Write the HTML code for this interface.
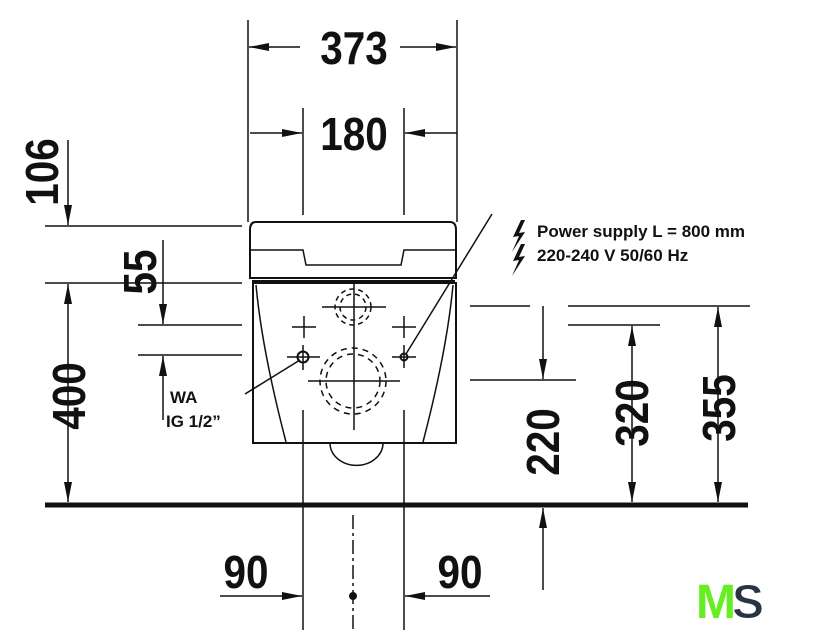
<!DOCTYPE html>
<html><head><meta charset="utf-8"><style>
html,body{margin:0;padding:0;background:#fff}
svg{display:block}
text{font-family:"Liberation Sans",sans-serif;font-weight:bold;fill:#111}
.d{font-size:46px}
.s{font-size:17px}
</style></head><body>
<svg width="827" height="640" viewBox="0 0 827 640" xmlns="http://www.w3.org/2000/svg">
<defs>
<marker id="a" viewBox="0 0 20 8" refX="20" refY="4" markerWidth="20" markerHeight="8" markerUnits="userSpaceOnUse" orient="auto"><path d="M0,0 L20,4 L0,8 z" fill="#111"/></marker>
</defs>
<g stroke="#111" stroke-width="1.5" fill="none">
<line x1="248" y1="20" x2="248" y2="222"/>
<line x1="457" y1="20" x2="457" y2="222"/>
<line x1="303" y1="108" x2="303" y2="215"/>
<line x1="404" y1="108" x2="404" y2="215"/>
<line x1="300" y1="47" x2="249" y2="47" marker-end="url(#a)"/>
<line x1="400" y1="47" x2="456" y2="47" marker-end="url(#a)"/>
<line x1="250" y1="133" x2="302" y2="133" marker-end="url(#a)"/>
<line x1="457" y1="133" x2="405" y2="133" marker-end="url(#a)"/>
<!-- seat -->
<path d="M256,222 L450,222 Q456,222 456,230 L456,278 L250,278 L250,230 Q250,222 256,222 Z" stroke-width="2"/>
<path d="M250,250 L303,250 L306,265 L401,265 L404,250 L456,250"/>
<line x1="252" y1="281" x2="455" y2="281" stroke-width="2"/>
<!-- bowl -->
<path d="M253,283 L456,283 L456,443 L253,443 Z" stroke-width="2"/>
<path d="M256,285 Q262,350 286,442"/>
<path d="M453,285 Q447,350 423,442"/>
<path d="M330,443 A26,22 0 0 0 383,443"/>
<line x1="354" y1="282" x2="354" y2="430"/>
<line x1="322" y1="307" x2="386" y2="307"/>
<line x1="308" y1="381" x2="400" y2="381"/>
<circle cx="353" cy="307" r="18" stroke-dasharray="5,4"/>
<circle cx="353" cy="307" r="13" stroke-dasharray="5,4"/>
<circle cx="353" cy="381" r="33" stroke-dasharray="6,5"/>
<circle cx="353" cy="381" r="27" stroke-dasharray="6,5"/>
<line x1="292" y1="327" x2="316" y2="327"/><line x1="304" y1="316" x2="304" y2="338"/>
<line x1="392" y1="327" x2="416" y2="327"/><line x1="404" y1="316" x2="404" y2="338"/>
<line x1="287" y1="357" x2="320" y2="357"/><line x1="303" y1="345" x2="303" y2="370"/>
<circle cx="303" cy="357" r="5.5" stroke-width="2"/>
<line x1="392" y1="357" x2="416" y2="357"/><line x1="404" y1="345" x2="404" y2="368"/>
<circle cx="404" cy="357" r="3.5" stroke-width="2"/>
<line x1="303" y1="410" x2="303" y2="630"/>
<line x1="404" y1="410" x2="404" y2="630"/>
<line x1="353" y1="515" x2="353" y2="630" stroke-dasharray="14,4,3,4"/>
<line x1="245" y1="394" x2="300" y2="360"/>
<line x1="492" y1="214" x2="406" y2="354"/>
<line x1="45" y1="226" x2="242" y2="226"/>
<line x1="45" y1="283" x2="242" y2="283"/>
<line x1="68" y1="140" x2="68" y2="225" marker-end="url(#a)"/>
<line x1="68" y1="390" x2="68" y2="284" marker-end="url(#a)"/>
<line x1="68" y1="390" x2="68" y2="502" marker-end="url(#a)"/>
<line x1="138" y1="325" x2="242" y2="325"/>
<line x1="138" y1="355" x2="242" y2="355"/>
<line x1="163" y1="240" x2="163" y2="324" marker-end="url(#a)"/>
<line x1="163" y1="420" x2="163" y2="356" marker-end="url(#a)"/>
<line x1="470" y1="306" x2="530" y2="306"/>
<line x1="568" y1="306" x2="750" y2="306"/>
<line x1="568" y1="325" x2="660" y2="325"/>
<line x1="470" y1="380" x2="576" y2="380"/>
<line x1="543" y1="306" x2="543" y2="379" marker-end="url(#a)"/>
<line x1="543" y1="590" x2="543" y2="508" marker-end="url(#a)"/>
<line x1="632" y1="400" x2="632" y2="326" marker-end="url(#a)"/>
<line x1="632" y1="400" x2="632" y2="502" marker-end="url(#a)"/>
<line x1="718" y1="400" x2="718" y2="307" marker-end="url(#a)"/>
<line x1="718" y1="400" x2="718" y2="502" marker-end="url(#a)"/>
<line x1="220" y1="596" x2="302" y2="596" marker-end="url(#a)"/>
<line x1="490" y1="596" x2="405" y2="596" marker-end="url(#a)"/>
</g>
<line x1="45" y1="505" x2="748" y2="505" stroke="#111" stroke-width="5"/>
<circle cx="353" cy="596" r="4" fill="#111"/>
<path d="M521,220 L513,237 L519,236 L512,252 L525,232 L519,233 L525,220 Z" fill="#111"/>
<path d="M521,244 L513,261 L519,260 L512,276 L525,256 L519,257 L525,244 Z" fill="#111"/>
<text class="d" transform="translate(354,64) scale(0.88,1)" text-anchor="middle">373</text>
<text class="d" transform="translate(354,150) scale(0.88,1)" text-anchor="middle">180</text>
<text class="d" transform="translate(246,588) scale(0.88,1)" text-anchor="middle">90</text>
<text class="d" transform="translate(460,588) scale(0.88,1)" text-anchor="middle">90</text>
<text class="d" transform="translate(58,172) rotate(-90) scale(0.88,1)" text-anchor="middle">106</text>
<text class="d" transform="translate(156,272) rotate(-90) scale(0.88,1)" text-anchor="middle">55</text>
<text class="d" transform="translate(85,396) rotate(-90) scale(0.88,1)" text-anchor="middle">400</text>
<text class="d" transform="translate(559,442) rotate(-90) scale(0.88,1)" text-anchor="middle">220</text>
<text class="d" transform="translate(648,413) rotate(-90) scale(0.88,1)" text-anchor="middle">320</text>
<text class="d" transform="translate(735,408) rotate(-90) scale(0.88,1)" text-anchor="middle">355</text>
<text class="s" x="170" y="403">WA</text>
<text class="s" x="166" y="427">IG 1/2”</text>
<text class="s" x="537" y="237">Power supply L = 800 mm</text>
<text class="s" x="537" y="261">220-240 V  50/60 Hz</text>
<text x="696" y="618" style="font-size:48px;fill:#66ee22;letter-spacing:-6px">M</text>
<text x="732" y="618" style="font-size:48px;fill:#2a3444;stroke:#fff;stroke-width:1">S</text>
</svg>
</body></html>
